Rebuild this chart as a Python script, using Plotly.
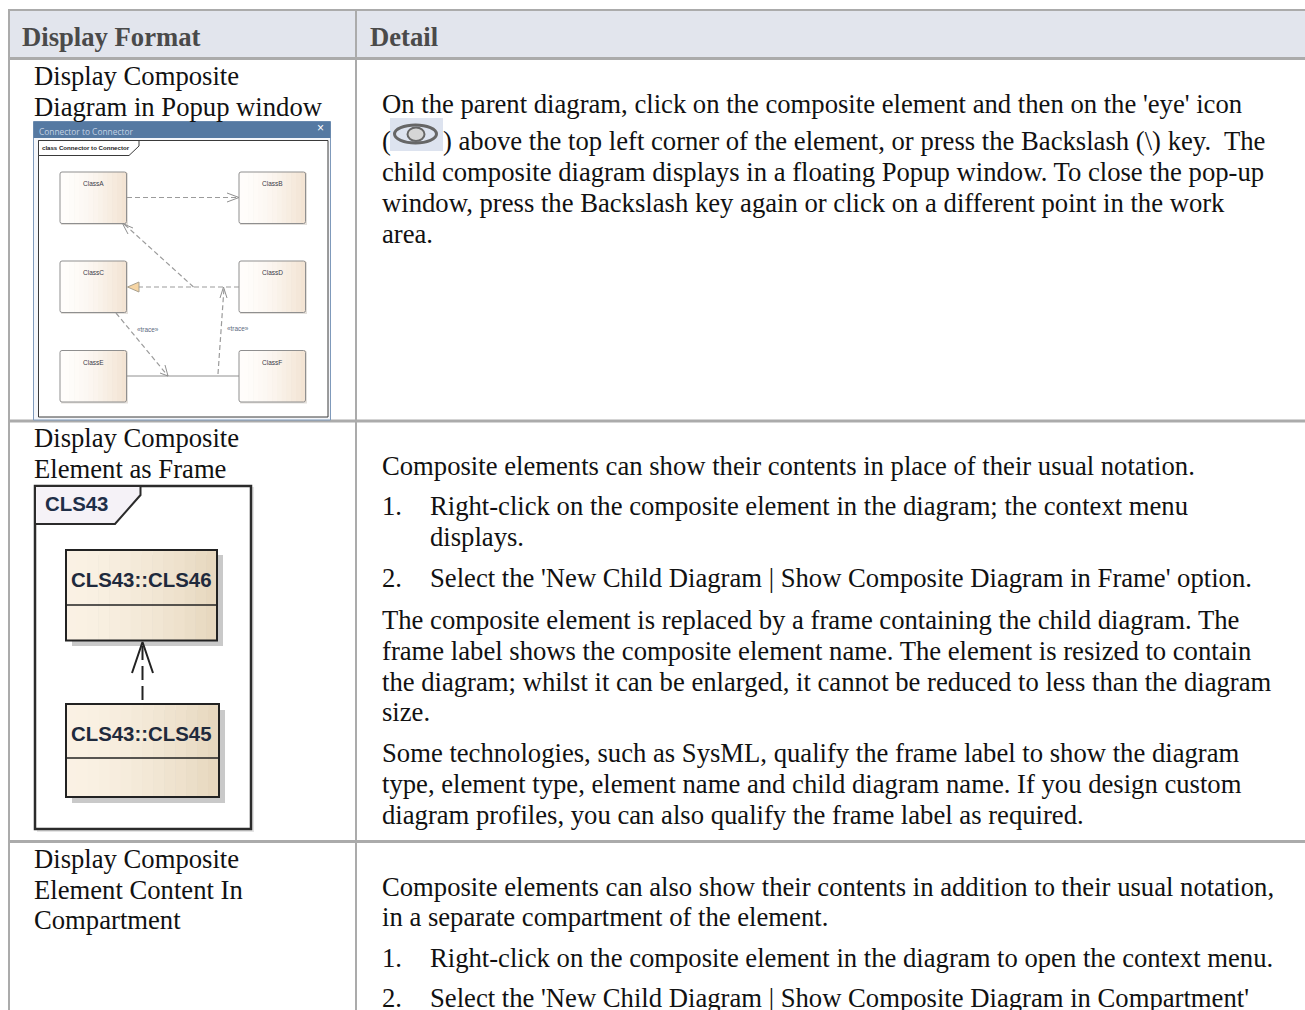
import plotly.graph_objects as go

W, H = 1305, 1010
SERIF = "Liberation Serif"
SANS = "Liberation Sans"
BODY = 26.67

headers = ["Display Format", "Detail"]
left_col = ["Display Composite", "Diagram in Popup window",
            "Display Composite", "Element as Frame",
            "Display Composite", "Element Content In", "Compartment"]
left_y = [75.5, 106.5, 437.5, 468.5, 858.5, 889.5, 919.5]
right_lines = [
    "On the parent diagram, click on the composite element and then on the 'eye' icon",
    ") above the top left corner of the element, or press the Backslash (\\) key.  The",
    "child composite diagram displays in a floating Popup window. To close the pop-up",
    "window, press the Backslash key again or click on a different point in the work",
    "area.",
    "Composite elements can show their contents in place of their usual notation.",
    "Right-click on the composite element in the diagram; the context menu",
    "displays.",
    "Select the 'New Child Diagram | Show Composite Diagram in Frame' option.",
    "The composite element is replaced by a frame containing the child diagram. The",
    "frame label shows the composite element name. The element is resized to contain",
    "the diagram; whilst it can be enlarged, it cannot be reduced to less than the diagram",
    "size.",
    "Some technologies, such as SysML, qualify the frame label to show the diagram",
    "type, element type, element name and child diagram name. If you design custom",
    "diagram profiles, you can also qualify the frame label as required.",
    "Composite elements can also show their contents in addition to their usual notation,",
    "in a separate compartment of the element.",
    "Right-click on the composite element in the diagram to open the context menu.",
    "Select the 'New Child Diagram | Show Composite Diagram in Compartment'",
]
right_y = [104, 141, 172, 203, 234, 466, 506, 537, 578, 620, 651, 682, 712, 753, 784, 815, 887, 917, 958, 998]
right_x = [382, 443, 382, 382, 382, 382, 430, 430, 430, 382, 382, 382, 382, 382, 382, 382, 382, 382, 430, 430]
markers = ["(", "1.", "2.", "1.", "2."]
marker_y = [141, 506, 578, 958, 998]

popup_classes = ["ClassA", "ClassB", "ClassC", "ClassD", "ClassE", "ClassF"]
popup_x = [60, 239, 60, 239, 60, 239]
popup_y = [172, 172, 261, 261, 350.5, 350.5]
frame_boxes = ["CLS43::CLS46", "CLS43::CLS45"]

shapes, notes = [], []


def rect(x0, y0, x1, y1, fill=None, line=None, lw=1):
    shapes.append(dict(type="rect", x0=x0, y0=y0, x1=x1, y1=y1, xref="x", yref="y", layer="below",
                       fillcolor=fill or "rgba(0,0,0,0)",
                       line=dict(color=line or "rgba(0,0,0,0)", width=lw if line else 0)))


def path(d, fill=None, line=None, lw=1):
    shapes.append(dict(type="path", path=d, xref="x", yref="y", layer="below",
                       fillcolor=fill or "rgba(0,0,0,0)",
                       line=dict(color=line or "rgba(0,0,0,0)", width=lw if line else 0)))


def hline(x0, x1, y, color, lw):
    shapes.append(dict(type="line", x0=x0, x1=x1, y0=y, y1=y, xref="x", yref="y", layer="below",
                       line=dict(color=color, width=lw)))


def vline(x, y0, y1, color, lw):
    shapes.append(dict(type="line", x0=x, x1=x, y0=y0, y1=y1, xref="x", yref="y", layer="below",
                       line=dict(color=color, width=lw)))


def text(x, y, s, size=BODY, color="#111111", family=SERIF, anchor="left", bold=False):
    notes.append(dict(x=x, y=y, xref="x", yref="y", text=f"<b>{s}</b>" if bold else s, showarrow=False,
                      xanchor=anchor, yanchor="middle", align="left",
                      font=dict(family=family, size=size, color=color),
                      borderpad=0, borderwidth=0))


def lerp(c0, c1, t):
    return "#%02x%02x%02x" % tuple(round(a + (b - a) * t) for a, b in zip(c0, c1))


def gradient(x0, y0, x1, y1, c0, c1, n=14):
    step = (x1 - x0) / n
    for i in range(n):
        t = (i / (n - 1)) ** 1.6
        rect(x0 + i * step, y0, x0 + (i + 1) * step + 0.4, y1, fill=lerp(c0, c1, t))


# table
rect(8.5, 10, W + 5, 58.5, fill="#e2e5ed")
hline(8, W + 5, 10, "#ababab", 2)
hline(8, W + 5, 58.5, "#ababab", 3)
hline(8, W + 5, 421, "#ababab", 3)
hline(8, W + 5, 841.5, "#ababab", 3)
vline(9, 10, H + 5, "#ababab", 2)
vline(356, 10, H + 5, "#ababab", 2)
text(22, 37, headers[0], color="#4a4a4a", bold=True)
text(370, 37, headers[1], color="#4a4a4a", bold=True)

# popup window image
rect(33.5, 121.5, 330.5, 420, fill="#f4f6fa", line="#7f9abb", lw=1)
rect(33.5, 121.5, 330.5, 138, fill="#5579a2")
rect(38.5, 140.5, 328, 417, fill="#ffffff", line="#3a3a3a", lw=1)
path("M38.5,140.5 L139,140.5 L139,146 L129,155.5 L38.5,155.5 Z", fill="#ffffff", line="#3a3a3a", lw=1)
text(39, 131, "Connector to Connector", size=8.4, color="#c3d2e4", family="Open Sans")
text(320.5, 128, "×", size=12, color="#ffffff", family=SANS, anchor="center")
text(42, 147.5, "class Connector to Connector", size=6.1, color="#222222", family=SANS, bold=True)

for name, x, y in zip(popup_classes, popup_x, popup_y):
    rect(x + 1, y + 1, x + 68, y + 53, fill="#e3e0dc")
    gradient(x, y, x + 66.5, y + 51.5, (255, 253, 251), (243, 228, 212))
    path(f"M{x+2},{y} L{x+64.5},{y} Q{x+66.5},{y} {x+66.5},{y+2} L{x+66.5},{y+49.5} "
         f"Q{x+66.5},{y+51.5} {x+64.5},{y+51.5} L{x+2},{y+51.5} Q{x},{y+51.5} {x},{y+49.5} "
         f"L{x},{y+2} Q{x},{y} {x+2},{y} Z", line="#8f8f8f", lw=1)
    text(x + 33, y + 11.5, name, size=6.5, color="#3c3c48", family=SANS, anchor="center")
text(147.5, 329, "«trace»", size=6.4, color="#5c6a80", family=SANS, anchor="center")
text(238, 328.7, "«trace»", size=6.4, color="#5c6a80", family=SANS, anchor="center")

# connectors in popup
dash_gray = dict(color="#9b9b9b", width=1.2, dash="5px,3px")
solid_gray = dict(color="#909090", width=1)
connector_paths = [
    ([127, 237], [197.5, 197.5], dash_gray),
    ([227, 239, 227], [193, 197.5, 202], solid_gray),
    ([193.5, 124], [287, 224], dash_gray),
    ([133, 122.5, 128], [228, 223.5, 234], solid_gray),
    ([239, 139], [287, 287], dash_gray),
    ([218, 224], [374, 288], dash_gray),
    ([220, 223.5, 227], [298, 287, 298], solid_gray),
    ([116, 168], [313, 376], dash_gray),
    ([160, 168, 165], [373, 376, 365], solid_gray),
    ([127, 239], [376, 376], solid_gray),
]
traces = [go.Scatter(x=xs, y=ys, mode="lines", line=ln, hoverinfo="skip", showlegend=False)
          for xs, ys, ln in connector_paths]
path("M127.5,287 L139,282 L139,292 Z", fill="#f6d5a4", line="#a8a08f", lw=1)

# eye icon
rect(390, 118, 443, 151, fill="#dde3ef")
shapes.append(dict(type="circle", x0=394.5, x1=436.5, y0=125, y1=143, xref="x", yref="y", layer="below",
                   fillcolor="rgba(0,0,0,0)", line=dict(color="#666666", width=3)))
shapes.append(dict(type="circle", x0=407.5, x1=424.5, y0=127.5, y1=141, xref="x", yref="y", layer="below",
                   fillcolor="#d6d6d6", line=dict(color="#666666", width=2)))

# CLS43 frame
rect(37, 487, 254, 832, fill="#e4e4e4")
rect(35, 486, 251, 829, fill="#ffffff", line="#2b2b2b", lw=2.5)
path("M35,486 L140.5,486 L140.5,495 L115,524 L35,524 Z", fill="#f5f2f7", line="#2b2b2b", lw=2)
text(45, 504, "CLS43", size=20.4, color="#1f2f48", family=SANS, bold=True)

rect(72, 555, 223, 646, fill="#c9c9c9")
gradient(66, 550, 217, 640.5, (250, 241, 228), (231, 216, 191))
rect(66, 550, 217, 640.5, line="#222222", lw=2)
hline(66, 217, 605, "#222222", 1.5)
text(141.5, 580, frame_boxes[0], size=20.4, color="#1f2a3c", family=SANS, anchor="center", bold=True)

rect(72, 710, 225, 803, fill="#c9c9c9")
gradient(66, 704, 219, 797, (250, 241, 228), (231, 216, 191))
rect(66, 704, 219, 797, line="#222222", lw=2)
hline(66, 219, 758, "#222222", 1.5)
text(141.5, 734, frame_boxes[1], size=20.4, color="#1f2a3c", family=SANS, anchor="center", bold=True)

traces.append(go.Scatter(x=[142.5, 142.5], y=[700, 642], mode="lines", showlegend=False, hoverinfo="skip",
                         line=dict(color="#222222", width=2, dash="14px,6px")))
traces.append(go.Scatter(x=[132, 142.5, 153], y=[673, 642, 673], mode="lines", showlegend=False, hoverinfo="skip",
                         line=dict(color="#222222", width=2)))

# body text
for s, y in zip(left_col, left_y):
    text(33.5, y, s)
for s, x, y in zip(right_lines, right_x, right_y):
    text(x, y, s)
for s, y in zip(markers, marker_y):
    text(382, y, s)

fig = go.Figure(traces)
fig.update_layout(
    width=W, height=H, autosize=False, margin=dict(l=0, r=0, t=0, b=0),
    paper_bgcolor="#ffffff", plot_bgcolor="#ffffff", showlegend=False,
    xaxis=dict(range=[0, W], visible=False, fixedrange=True),
    yaxis=dict(range=[H, 0], visible=False, fixedrange=True),
    shapes=shapes, annotations=notes,
)
fig.write_html("out.html", config=dict(displayModeBar=False),
               post_script="document.body.style.margin='0';document.body.style.overflow='hidden';")
